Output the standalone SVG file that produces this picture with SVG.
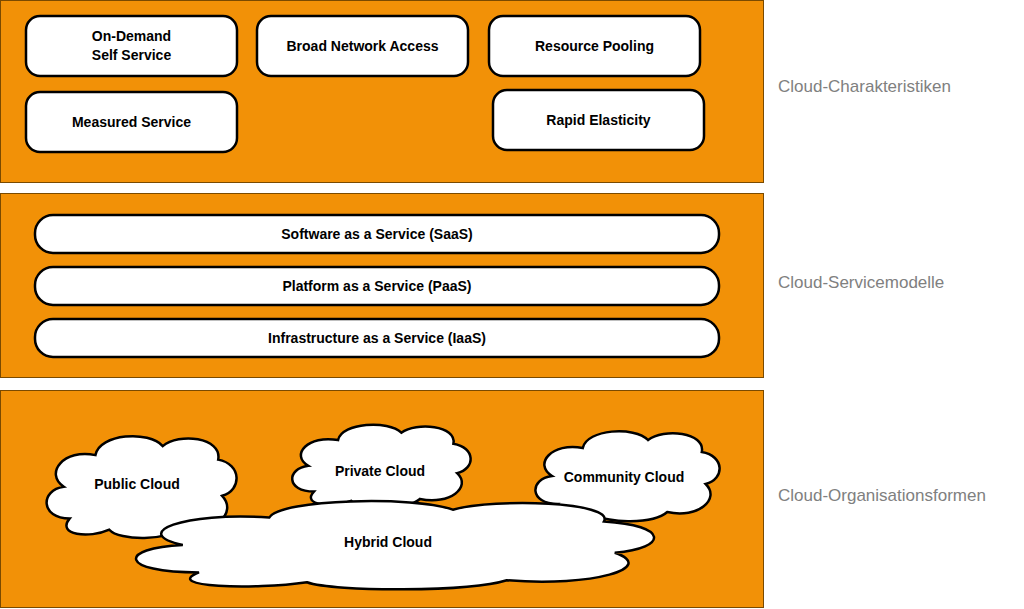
<svg xmlns="http://www.w3.org/2000/svg" xmlns:xlink="http://www.w3.org/1999/xlink" width="1024" height="609" viewBox="0 0 1024 609">
<style>
.panel{fill:#f29107;stroke:#7a4a00;stroke-width:1}
.box{fill:#fff;stroke:#000;stroke-width:2.5}
.t{font-family:"Liberation Sans",Arial,sans-serif;font-weight:bold;font-size:14px;text-anchor:middle;fill:#000}
.lab{font-family:"Liberation Sans",Arial,sans-serif;font-size:17px;fill:#808080}
.cl{fill:#fff;stroke:#000;stroke-width:2.5}
</style>
<defs>
<path id="cloud" vector-effect="non-scaling-stroke" d="M15,80 C0,80 0,55 12,52 C2,40 12,18 28,24 C30,5 55,2 62,16 C70,4 92,8 90,28 C102,32 102,55 92,60 C100,75 88,95 72,88 C65,100 40,100 35,90 C25,98 8,95 15,80 Z"/>
</defs>
<rect width="1024" height="609" fill="#fff"/>
<rect class="panel" x="0.5" y="0.5" width="763" height="182"/>
<rect class="panel" x="0.5" y="193.5" width="763" height="184"/>
<rect class="panel" x="0.5" y="390.5" width="763" height="217"/>
<g id="ondemand"><rect class="box" x="26" y="16" width="211" height="60" rx="14"/><text class="t" x="131.5" y="41">On-Demand</text><text class="t" x="131.5" y="60">Self Service</text></g>
<g id="broad"><rect class="box" x="257" y="16" width="211" height="60" rx="14"/><text class="t" x="362.5" y="51">Broad Network Access</text></g>
<g id="pooling"><rect class="box" x="489" y="16" width="211" height="60" rx="14"/><text class="t" x="594.5" y="51">Resource Pooling</text></g>
<g id="measured"><rect class="box" x="26" y="92" width="211" height="60" rx="14"/><text class="t" x="131.5" y="127">Measured Service</text></g>
<g id="rapid"><rect class="box" x="493" y="90" width="211" height="60" rx="14"/><text class="t" x="598.5" y="125">Rapid Elasticity</text></g>
<g id="saas"><rect class="box" x="35" y="215" width="684" height="38" rx="18"/><text class="t" x="377" y="239">Software as a Service (SaaS)</text></g>
<g id="paas"><rect class="box" x="35" y="267" width="684" height="38" rx="18"/><text class="t" x="377" y="291">Platform as a Service (PaaS)</text></g>
<g id="iaas"><rect class="box" x="35" y="319" width="684" height="38" rx="18"/><text class="t" x="377" y="343">Infrastructure as a Service (IaaS)</text></g>
<g id="public"><use href="#cloud" class="cl" transform="translate(40,428) scale(1.98,1.13)"/><text class="t" x="137" y="489">Public Cloud</text></g>
<g id="private"><use href="#cloud" class="cl" transform="translate(286,418) scale(1.86,0.92)"/><text class="t" x="380" y="476">Private Cloud</text></g>
<g id="community"><use href="#cloud" class="cl" transform="translate(529,424) scale(1.92,1.0)"/><text class="t" x="624" y="482">Community Cloud</text></g>
<g id="hybrid"><use href="#cloud" class="cl" transform="translate(118,494) scale(5.4,0.98)"/><text class="t" x="388" y="547">Hybrid Cloud</text></g>
<g id="connectors"></g>
<text class="lab" x="778" y="92">Cloud-Charakteristiken</text>
<text class="lab" x="778" y="288">Cloud-Servicemodelle</text>
<text class="lab" x="778" y="501">Cloud-Organisationsformen</text>
</svg>
